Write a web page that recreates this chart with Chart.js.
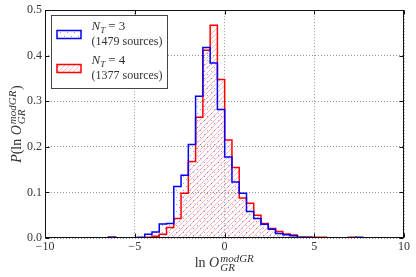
<!DOCTYPE html>
<html>
<head>
<meta charset="utf-8">
<script src="https://cdn.jsdelivr.net/npm/chart.js@4.4.1/dist/chart.umd.min.js"></script>
<style>
html, body { margin: 0; padding: 0; background: #fff; }
</style>
</head>
<body>
<canvas id="histChart" width="416" height="277"></canvas>
<script>
// bin edges shared by both histograms
const binEdges = [-6.470, -6.065, -5.660, -5.255, -4.850, -4.445, -4.040, -3.635, -3.230, -2.825,
    -2.420, -2.015, -1.610, -1.205, -0.800, -0.395, 0.010, 0.415, 0.820, 1.225,
    1.630, 2.035, 2.440, 2.845, 3.250, 3.655, 4.060, 4.465, 4.870, 5.275,
    5.680, 6.085, 6.490, 6.895, 7.300, 7.705];

// N_T = 3 (blue)
const densityNT3 = [0.0017, 0, 0, 0, 0.0017, 0.008, 0.013, 0.031, 0.032, 0.113,
    0.138, 0.205, 0.311, 0.418, 0.384, 0.282, 0.178, 0.123, 0.098, 0.058,
    0.043, 0.030, 0.019, 0.010, 0.007, 0.005, 0.0017, 0.0017, 0, 0,
    0, 0, 0, 0, 0.0017];

// N_T = 4 (red)
const densityNT4 = [0.0018, 0, 0, 0, 0, 0.0018, 0.0036, 0.008, 0.023, 0.043,
    0.098, 0.168, 0.265, 0.412, 0.467, 0.348, 0.215, 0.155, 0.088, 0.076,
    0.050, 0.032, 0.021, 0.014, 0.009, 0.0066, 0.0018, 0.0018, 0.0018, 0.0018,
    0, 0, 0, 0.0018, 0];

const nTValues = ['3', '4'];
const sourceCounts = [1479, 1377];
const xTicks = [-10, -5, 0, 5, 10];
const yTicks = [0, 0.1, 0.2, 0.3, 0.4, 0.5];

const serif = '"Liberation Serif", "DejaVu Serif", serif';
const textColor = '#333';

function stepPoints(edges, heights) {
    const pts = [{ x: edges[0], y: 0 }];
    heights.forEach((h, i) => pts.push({ x: edges[i], y: h }));
    pts.push({ x: edges[edges.length - 1], y: 0 });
    return pts;
}

function makePattern(kind) {
    const c = document.createElement('canvas');
    const s = kind === 'dots' ? 7 : 5;
    c.width = s; c.height = s;
    const g = c.getContext('2d');
    if (kind === 'dots') {
        g.fillStyle = 'rgba(0, 0, 255, 0.4)';
        g.fillRect(1, 1, 1, 1);
        g.fillRect(4, 4, 1, 1);
    } else {
        g.strokeStyle = 'rgba(255, 0, 0, 0.28)';
        g.lineWidth = 1;
        g.beginPath();
        g.moveTo(0, s); g.lineTo(s, 0);
        g.moveTo(-1, 1); g.lineTo(1, -1);
        g.moveTo(s - 1, s + 1); g.lineTo(s + 1, s - 1);
        g.stroke();
    }
    return g.createPattern(c, 'repeat');
}

// draws "text" pieces, with stacked super/subscript pieces; returns width
function drawMath(ctx, x, y, parts, size, draw) {
    let cx = x;
    const small = Math.round(size * 0.78);
    parts.forEach(p => {
        if (p.sup !== undefined) {
            ctx.font = 'italic ' + small + 'px ' + serif;
            const w = Math.max(ctx.measureText(p.sup).width, ctx.measureText(p.sub).width);
            if (draw) {
                ctx.fillText(p.sup, cx + 1, y - size * 0.36);
                ctx.fillText(p.sub, cx + 1, y + size * 0.3);
            }
            cx += w + 1.5;
        } else {
            ctx.font = (p.it ? 'italic ' : '') + size + 'px ' + serif;
            if (draw) ctx.fillText(p.t, cx, y);
            cx += ctx.measureText(p.t).width;
        }
    });
    return cx - x;
}

const lnO = [{ t: 'ln ' }, { t: 'O', it: true }, { sup: 'modGR', sub: 'GR' }];

const decorPlugin = {
    id: 'decor',
    afterDraw(chart) {
        const ctx = chart.ctx;
        const a = chart.chartArea;
        const xs = chart.scales.x, ys = chart.scales.y;
        ctx.save();
        // frame
        ctx.strokeStyle = '#111';
        ctx.lineWidth = 1;
        const L = Math.round(a.left) + 0.5, R = Math.round(a.right) - 0.5;
        const T = Math.round(a.top) + 0.5, B = Math.round(a.bottom) - 0.5;
        ctx.strokeRect(L, T, R - L, B - T);
        // inward ticks on all sides
        ctx.beginPath();
        xTicks.forEach(v => {
            const px = Math.round(xs.getPixelForValue(v)) + 0.5;
            ctx.moveTo(px, B); ctx.lineTo(px, B - 4);
            ctx.moveTo(px, T); ctx.lineTo(px, T + 4);
        });
        yTicks.forEach(v => {
            const py = Math.round(ys.getPixelForValue(v)) + 0.5;
            ctx.moveTo(L, py); ctx.lineTo(L + 4, py);
            ctx.moveTo(R, py); ctx.lineTo(R - 4, py);
        });
        ctx.stroke();

        // axis titles
        ctx.fillStyle = textColor;
        ctx.textBaseline = 'alphabetic';
        ctx.textAlign = 'left';
        const cxMid = (a.left + a.right) / 2;
        const wx = drawMath(ctx, 0, 0, lnO, 14, false);
        drawMath(ctx, cxMid - wx / 2, a.bottom + 29, lnO, 14, true);

        const yParts = [{ t: 'P', it: true }, { t: '(' }].concat(lnO, [{ t: ')' }]);
        const wy = drawMath(ctx, 0, 0, yParts, 14, false);
        ctx.translate(21, (a.top + a.bottom) / 2);
        ctx.rotate(-Math.PI / 2);
        drawMath(ctx, -wy / 2, 0, yParts, 14, true);
        ctx.restore();

        // legend
        ctx.save();
        ctx.fillStyle = '#fff';
        ctx.fillRect(52, 16, 115, 72);
        ctx.strokeStyle = '#444';
        ctx.lineWidth = 1;
        ctx.strokeRect(51.5, 15.5, 116, 73);
        chart.data.datasets.forEach((ds, i) => {
            const top = 30.5 + i * 34;
            ctx.fillStyle = ds.backgroundColor;
            ctx.fillRect(57, top, 24, 8);
            ctx.strokeStyle = ds.borderColor;
            ctx.lineWidth = 1.5;
            ctx.strokeRect(57, top, 24, 8);
            ctx.fillStyle = textColor;
            ctx.textAlign = 'left';
            let x = 91.5;
            const base = 30 + i * 34;
            ctx.font = 'italic 13px ' + serif;
            ctx.fillText('N', x, base);
            x += ctx.measureText('N').width;
            ctx.font = 'italic 9px ' + serif;
            ctx.fillText('T', x, base + 3);
            x += ctx.measureText('T').width + 3;
            ctx.font = '13px ' + serif;
            ctx.fillText('= ' + nTValues[i], x, base);
            ctx.font = '12px ' + serif;
            ctx.fillText('(' + sourceCounts[i] + ' sources)', 91.5, base + 15);
        });
        ctx.restore();
    }
};

const ctx = document.getElementById('histChart').getContext('2d');
const histChart = new Chart(ctx, {
    type: 'line',
    data: {
        datasets: [{
            label: 'N_T = 3',
            data: stepPoints(binEdges, densityNT3),
            borderColor: '#0000ff',
            backgroundColor: makePattern('dots'),
            borderWidth: 1.5,
            pointRadius: 0,
            stepped: true,
            fill: 'origin'
        }, {
            label: 'N_T = 4',
            data: stepPoints(binEdges, densityNT4),
            borderColor: '#ff0000',
            backgroundColor: makePattern('hatch'),
            borderWidth: 1.5,
            pointRadius: 0,
            stepped: true,
            fill: 'origin'
        }]
    },
    options: {
        responsive: false,
        animation: false,
        devicePixelRatio: 1,
        layout: { padding: { left: 0, right: 12, top: 10, bottom: 0 } },
        scales: {
            x: {
                type: 'linear',
                min: -10,
                max: 10,
                z: 1,
                afterBuildTicks: s => { s.ticks = xTicks.map(v => ({ value: v })); },
                afterFit: s => { s.height = 39; },
                ticks: {
                    padding: 2,
                    color: textColor,
                    font: { family: serif, size: 12 },
                    maxRotation: 0,
                    callback: v => String(v).replace('-', '\u2212')
                },
                grid: { color: 'rgba(0,0,0,0.4)', lineWidth: 1, drawTicks: false },
                border: { display: false, dash: [1, 2] }
            },
            y: {
                min: 0,
                max: 0.5,
                z: 1,
                afterBuildTicks: s => { s.ticks = yTicks.map(v => ({ value: v })); },
                afterFit: s => { s.width = 45; },
                ticks: {
                    padding: 3,
                    color: textColor,
                    font: { family: serif, size: 12 },
                    callback: v => v.toFixed(1)
                },
                grid: { color: 'rgba(0,0,0,0.4)', lineWidth: 1, drawTicks: false },
                border: { display: false, dash: [1, 2] }
            }
        },
        plugins: {
            legend: { display: false },
            tooltip: { enabled: false }
        }
    },
    plugins: [decorPlugin]
});
</script>
</body>
</html>
